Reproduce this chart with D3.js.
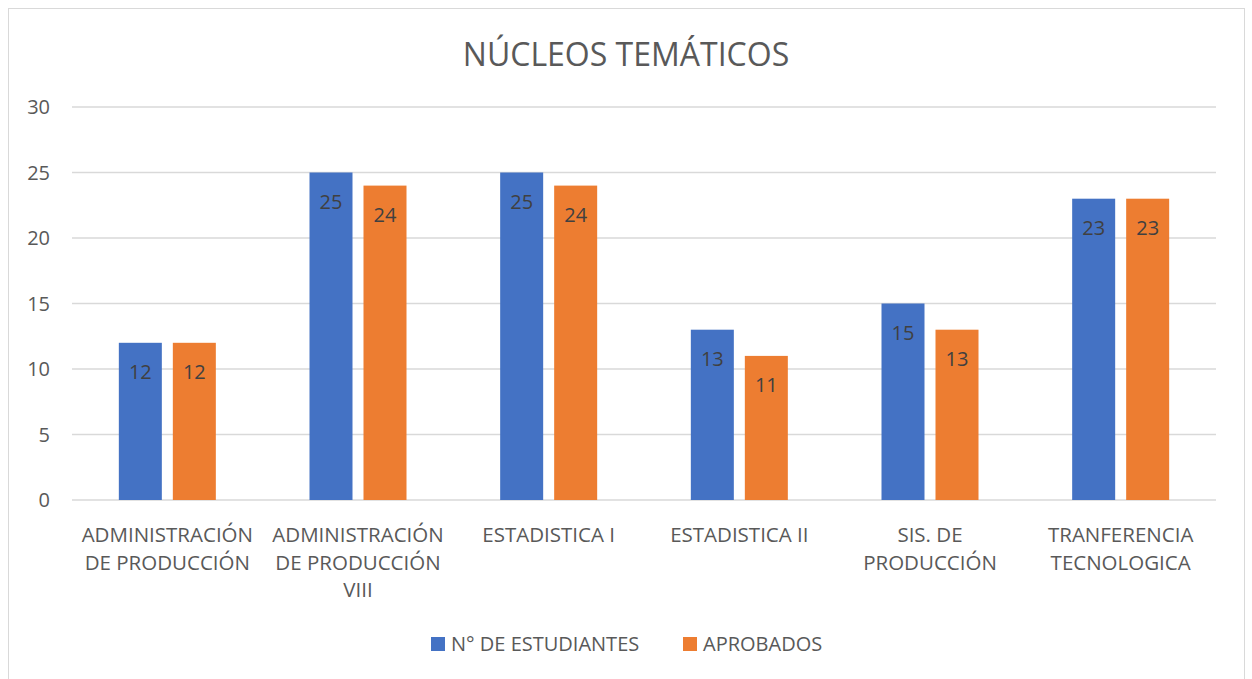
<!DOCTYPE html>
<html>
<head>
<meta charset="utf-8">
<script src="https://cdn.jsdelivr.net/npm/d3@7"></script>
<style>
  body { margin: 0; background: #fff; }
  text { font-family: "Open Sans", "Noto Sans", sans-serif; }
</style>
</head>
<body>
<svg id="chart" width="1252" height="679"></svg>
<script>
// data
const categories = [
    "ADMINISTRACIÓN\nDE PRODUCCIÓN",
    "ADMINISTRACIÓN\nDE PRODUCCIÓN\nVIII",
    "ESTADISTICA I",
    "ESTADISTICA II",
    "SIS. DE\nPRODUCCIÓN",
    "TRANFERENCIA\nTECNOLOGICA"
];
const estudiantes = [12, 25, 25, 13, 15, 23];
const aprobados = [12, 24, 24, 11, 13, 23];
const seriesNames = ["N° DE ESTUDIANTES", "APROBADOS"];
const yTicks = [0, 5, 10, 15, 20, 25, 30];
const colors = ["#4472c4", "#ed7d31"];

const svg = d3.select("#chart");

// chart border
svg.append("rect")
    .attr("x", 8.5).attr("y", 8.5)
    .attr("width", 1236).attr("height", 690)
    .attr("fill", "#fff")
    .attr("stroke", "#d9d9d9");

svg.append("text")
    .attr("x", 626).attr("y", 66)
    .attr("text-anchor", "middle")
    .attr("font-size", 32)
    .attr("fill", "#595959")
    .text("NÚCLEOS TEMÁTICOS");

const margin = {left: 72, right: 1216, top: 107, bottom: 500};

let x = d3.scaleBand()
    .domain(d3.range(categories.length))
    .range([margin.left, margin.right]);

let y = d3.scaleLinear()
    .domain([0, 30])
    .range([margin.bottom, margin.top]);

// gridlines
svg.append("g")
    .selectAll("line")
    .data(yTicks)
    .enter()
    .append("line")
    .attr("x1", margin.left)
    .attr("x2", margin.right)
    .attr("y1", d => y(d))
    .attr("y2", d => y(d))
    .attr("stroke", "#d9d9d9")
    .attr("stroke-width", 1.3);

// y tick labels
svg.append("g")
    .selectAll("text")
    .data(yTicks)
    .enter()
    .append("text")
    .attr("x", 50)
    .attr("y", d => y(d))
    .attr("dy", "0.35em")
    .attr("text-anchor", "end")
    .attr("font-size", 20)
    .attr("fill", "#595959")
    .text(d => d);

const barW = 43;
const gap = 11;

let series = [estudiantes, aprobados];

series.forEach(function (vals, s) {
    let g = svg.append("g");
    let off = s === 0 ? -(gap / 2 + barW) : gap / 2;

    g.selectAll("rect")
        .data(vals)
        .enter()
        .append("rect")
        .attr("x", (d, i) => x(i) + x.bandwidth() / 2 + off)
        .attr("y", d => y(d))
        .attr("width", barW)
        .attr("height", d => y(0) - y(d))
        .attr("fill", colors[s]);

    g.selectAll("text")
        .data(vals)
        .enter()
        .append("text")
        .attr("x", (d, i) => x(i) + x.bandwidth() / 2 + off + barW / 2)
        .attr("y", d => y(d) + 36)
        .attr("text-anchor", "middle")
        .attr("font-size", 20)
        .attr("fill", "#404040")
        .text(d => d);
});

// category labels
let cat = svg.append("g")
    .selectAll("text")
    .data(categories)
    .enter()
    .append("text")
    .attr("text-anchor", "middle")
    .attr("font-size", 20.5)
    .attr("fill", "#595959");

cat.each(function (d, i) {
    let lines = d.split("\n");
    let t = d3.select(this);
    lines.forEach(function (ln, j) {
        t.append("tspan")
            .attr("x", x(i) + x.bandwidth() / 2)
            .attr("y", 542 + j * 27.5)
            .text(ln);
    });
});

// legend
const legendX = [431, 683];
let legend = svg.append("g");
seriesNames.forEach(function (name, s) {
    legend.append("rect")
        .attr("x", legendX[s]).attr("y", 637)
        .attr("width", 14).attr("height", 14)
        .attr("fill", colors[s]);
    legend.append("text")
        .attr("x", legendX[s] + 20).attr("y", 644)
        .attr("dy", "0.35em")
        .attr("font-size", 20)
        .attr("fill", "#595959")
        .text(name);
});
</script>
</body>
</html>
